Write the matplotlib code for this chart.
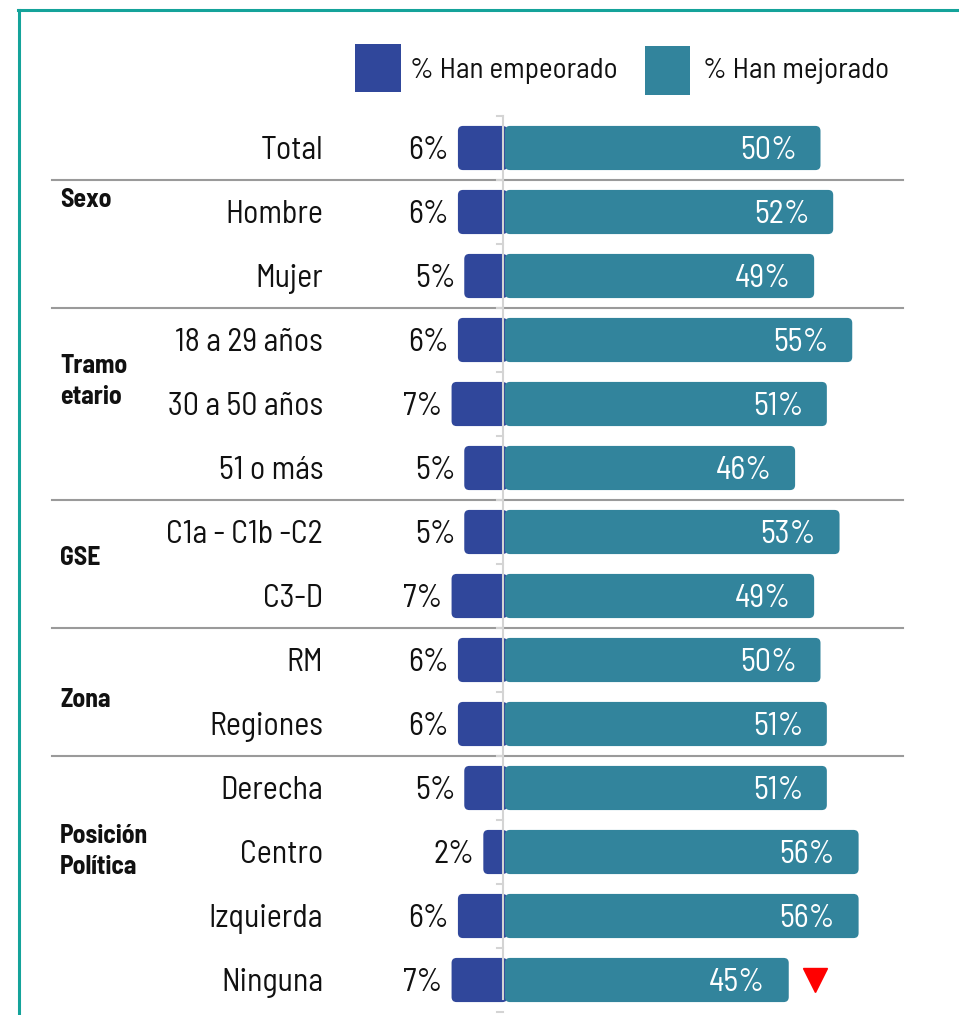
import matplotlib
matplotlib.use("Agg")
import matplotlib.pyplot as plt
from matplotlib.patches import FancyBboxPatch, Rectangle
from matplotlib.lines import Line2D

plt.rcParams['font.family'] = ['Barlow Semi Condensed', 'DejaVu Sans']

categories = ["Total", "Hombre", "Mujer", "18 a 29 años", "30 a 50 años", "51 o más",
              "C1a - C1b -C2", "C3-D", "RM", "Regiones", "Derecha", "Centro",
              "Izquierda", "Ninguna"]
empeorado = [6, 6, 5, 6, 7, 5, 5, 7, 6, 6, 5, 2, 6, 7]
mejorado = [50, 52, 49, 55, 51, 46, 53, 49, 50, 51, 51, 56, 56, 45]
groups = ["Sexo", "Tramo\netario", "GSE", "Zona", "Posición\nPolítica"]
group_pos = [0.81, 3.65, 6.41, 8.63, 10.99]
separators = [0.5, 2.5, 5.5, 7.5, 9.5]
legend_labels = ["% Han empeorado", "% Han mejorado"]
down_marker_row = 13

BLUE = "#30479B"
TEAL = "#32849C"
FRAME = "#14A39A"

W, H = 959, 1015
fig = plt.figure(figsize=(W / 100, H / 100), dpi=100)
ax = fig.add_axes([0, 0, 1, 1])
cx = 503.0
pxu = 6.35
row0 = 148.0
rowh = 64.0
ax.set_xlim(-cx / pxu, (W - cx) / pxu)
ax.set_ylim((H - row0) / rowh, -row0 / rowh)
ax.axis("off")

FS = 23
asp = pxu / rowh
bh = 0.69
r = 0.8
dy = 0.05
for i, (e, m) in enumerate(zip(empeorado, mejorado)):
    y0 = i - bh / 2
    blue = FancyBboxPatch((-(e + 1.1), y0), e + 1.8, bh,
                          boxstyle=f"round,pad=0,rounding_size={r}",
                          mutation_aspect=asp, fc=BLUE, ec="none", zorder=2)
    ax.add_patch(blue)
    teal = FancyBboxPatch((0.3, y0), m - 0.3, bh,
                          boxstyle=f"round,pad=0,rounding_size={r}",
                          mutation_aspect=asp, fc=TEAL, ec="none", zorder=3)
    ax.add_patch(teal)
    ax.text(m - 3.7, i + dy, f"{m}%", color="white", fontsize=FS,
            ha="right", va="center", zorder=5)
    ax.text(-(e + 1.1) - 1.4, i + dy, f"{e}%", color="#111111", fontsize=FS,
            ha="right", va="center", zorder=5)
    ax.text(-(cx - 323) / pxu, i + dy, categories[i], color="#111111", fontsize=FS,
            ha="right", va="center")

# center line with ticks
n = len(categories)
ax.plot([0, 0], [-0.5, n - 0.7], color="#d4d4d4", lw=1.5, zorder=6)
for k in range(n + 1):
    ax.plot([-1.0, 0], [k - 0.5, k - 0.5], color="#d4d4d4", lw=1.5, zorder=6)

# separators
for s in separators:
    ax.plot([-(cx - 52) / pxu, (903 - cx) / pxu], [s, s], color="#9a9a9a", lw=1.5, zorder=1)

# group labels
for g, p in zip(groups, group_pos):
    ax.text(-(cx - 60) / pxu, p, g, fontsize=18.5, fontweight=700, ha="left",
            va="center", linespacing=1.35, color="#111111")

# red down marker
ax.plot([mejorado[down_marker_row] + 4.1], [down_marker_row], marker="v",
        color="#FF0000", markersize=17, zorder=6)

# frame
fig.add_artist(Line2D([18 / W, 1], [1 - 10 / H, 1 - 10 / H], color=FRAME, lw=2.2))
fig.add_artist(Line2D([19 / W, 19 / W], [0, 1 - 10 / H], color=FRAME, lw=2.2))

# legend
fig.add_artist(Rectangle((355 / W, 1 - 92 / H), 46 / W, 48 / H, fc=BLUE, ec="none"))
fig.text(410 / W, 1 - 71 / H, legend_labels[0], fontsize=21, va="center", ha="left", color="#111111")
fig.add_artist(Rectangle((645 / W, 1 - 95 / H), 45 / W, 49 / H, fc=TEAL, ec="none"))
fig.text(703 / W, 1 - 71 / H, legend_labels[1], fontsize=21, va="center", ha="left", color="#111111")

fig.savefig("out.png", dpi=100)
